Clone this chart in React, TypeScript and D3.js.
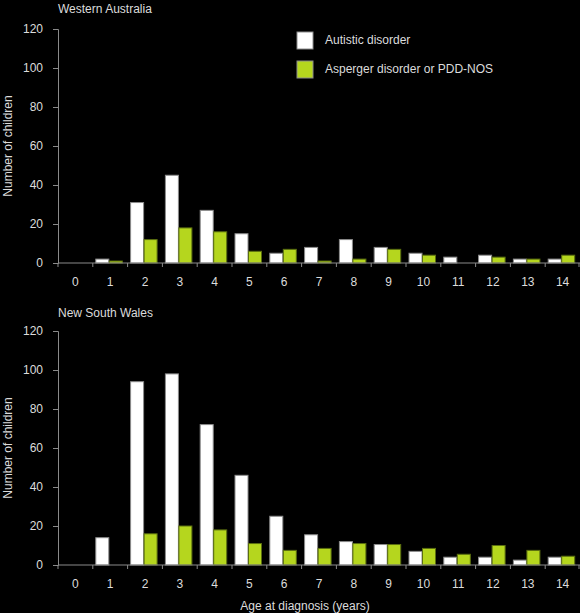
import React, { useEffect, useRef } from 'react';
import * as d3 from 'd3';

const ages = ['0', '1', '2', '3', '4', '5', '6', '7', '8', '9', '10', '11', '12', '13', '14'];
const seriesNames = ['Autistic disorder', 'Asperger disorder or PDD-NOS'];
const waAutistic = [0, 2, 31, 45, 27, 15, 5, 8, 12, 8, 5, 3, 4, 2, 2];
const waAsperger = [0, 1, 12, 18, 16, 6, 7, 1, 2, 7, 4, 0, 3, 2, 4];
const nswAutistic = [0, 14, 94, 98, 72, 46, 25, 15.5, 12, 10.5, 7, 4, 4, 2.5, 4];
const nswAsperger = [0, 0, 16, 20, 18, 11, 7.5, 8.5, 11, 10.5, 8.5, 5.5, 10, 7.5, 4.5];
const yTicks = [0, 20, 40, 60, 80, 100, 120];

const colors = ['#ffffff', '#b5d61e'];
const textColor = '#dcdcdc';
const axisColor = '#8a8a8a';
const font = 'Liberation Sans, Arial, sans-serif';

const App: React.FC = () => {
  const ref = useRef<SVGSVGElement | null>(null);

  useEffect(() => {
    const svg = d3.select(ref.current);
    svg.selectAll('*').remove();

    const left = 58;
    const right = 580;

    const x = d3.scaleBand<string>().domain(ages).range([left, right]).padding(0);
    const xSub = d3.scaleBand<string>().domain(seriesNames).range([3, 30]).padding(0);

    const panels = [
      { title: 'Western Australia', top: 29, bottom: 263, a: waAutistic, b: waAsperger, titleY: 13 },
      { title: 'New South Wales', top: 331, bottom: 565, a: nswAutistic, b: nswAsperger, titleY: 317 },
    ];

    panels.forEach(p => {
      const y = d3.scaleLinear().domain([0, 120]).range([p.bottom, p.top]);
      const g = svg.append('g');

      // bars
      [p.a, p.b].forEach((vals, si) => {
        g.selectAll(null)
          .data(vals.map((v, i) => ({ age: ages[i], v })).filter(d => d.v > 0))
          .enter()
          .append('rect')
          .attr('x', d => (x(d.age) as number) + (xSub(seriesNames[si]) as number))
          .attr('y', d => y(d.v))
          .attr('width', xSub.bandwidth() - 0.5)
          .attr('height', d => p.bottom - y(d.v))
          .attr('fill', colors[si])
          .attr('stroke', si === 0 ? '#8c8c8c' : '#5a6e10')
          .attr('stroke-width', 1);
      });

      // y axis
      const yAxis = g.append('g')
        .attr('transform', `translate(${left},0)`)
        .call(d3.axisLeft(y).tickValues(yTicks).tickSize(5).tickPadding(10));
      yAxis.select('.domain').attr('stroke', axisColor);
      yAxis.selectAll('line').attr('stroke', axisColor);
      yAxis.selectAll('text')
        .attr('fill', textColor)
        .style('font-family', font)
        .style('font-size', '12px');

      // x axis
      const xAxis = g.append('g')
        .attr('transform', `translate(0,${p.bottom})`)
        .call(d3.axisBottom(x).tickSize(0).tickPadding(14));
      xAxis.select('.domain').attr('stroke', axisColor).attr('d', `M${left},0H${right}`);
      xAxis.selectAll('text')
        .attr('fill', textColor)
        .style('font-family', font)
        .style('font-size', '12px');

      // boundary ticks
      g.selectAll(null)
        .data(ages)
        .enter()
        .append('line')
        .attr('x1', d => x(d) as number)
        .attr('x2', d => x(d) as number)
        .attr('y1', p.bottom)
        .attr('y2', p.bottom + 4)
        .attr('stroke', axisColor);
      g.append('line')
        .attr('x1', right - 1).attr('x2', right - 1)
        .attr('y1', p.bottom).attr('y2', p.bottom + 4)
        .attr('stroke', axisColor);

      // title
      g.append('text')
        .attr('x', left)
        .attr('y', p.titleY)
        .attr('fill', textColor)
        .style('font-family', font)
        .style('font-size', '12px')
        .text(p.title);

      // y title
      g.append('text')
        .attr('transform', `translate(12,${(p.top + p.bottom) / 2 + 0}) rotate(-90)`)
        .attr('text-anchor', 'middle')
        .attr('fill', textColor)
        .style('font-family', font)
        .style('font-size', '12px')
        .text('Number of children');
    });

    // x title
    svg.append('text')
      .attr('x', 305)
      .attr('y', 610)
      .attr('text-anchor', 'middle')
      .attr('fill', textColor)
      .style('font-family', font)
      .style('font-size', '12px')
      .text('Age at diagnosis (years)');

    // legend
    const legend = svg.append('g').attr('transform', 'translate(297,32)');
    seriesNames.forEach((name, i) => {
      legend.append('rect')
        .attr('x', 0)
        .attr('y', i * 29)
        .attr('width', 16)
        .attr('height', 17)
        .attr('fill', colors[i])
        .attr('stroke', '#8c8c8c');
      legend.append('text')
        .attr('x', 28)
        .attr('y', i * 29 + 9)
        .attr('dominant-baseline', 'middle')
        .attr('fill', textColor)
        .style('font-family', font)
        .style('font-size', '12px')
        .text(name);
    });
  }, []);

  return (
    <svg
      ref={ref}
      width={580}
      height={613}
      style={{ position: 'absolute', left: 0, top: 0, background: '#000' }}
    />
  );
};

export default App;
